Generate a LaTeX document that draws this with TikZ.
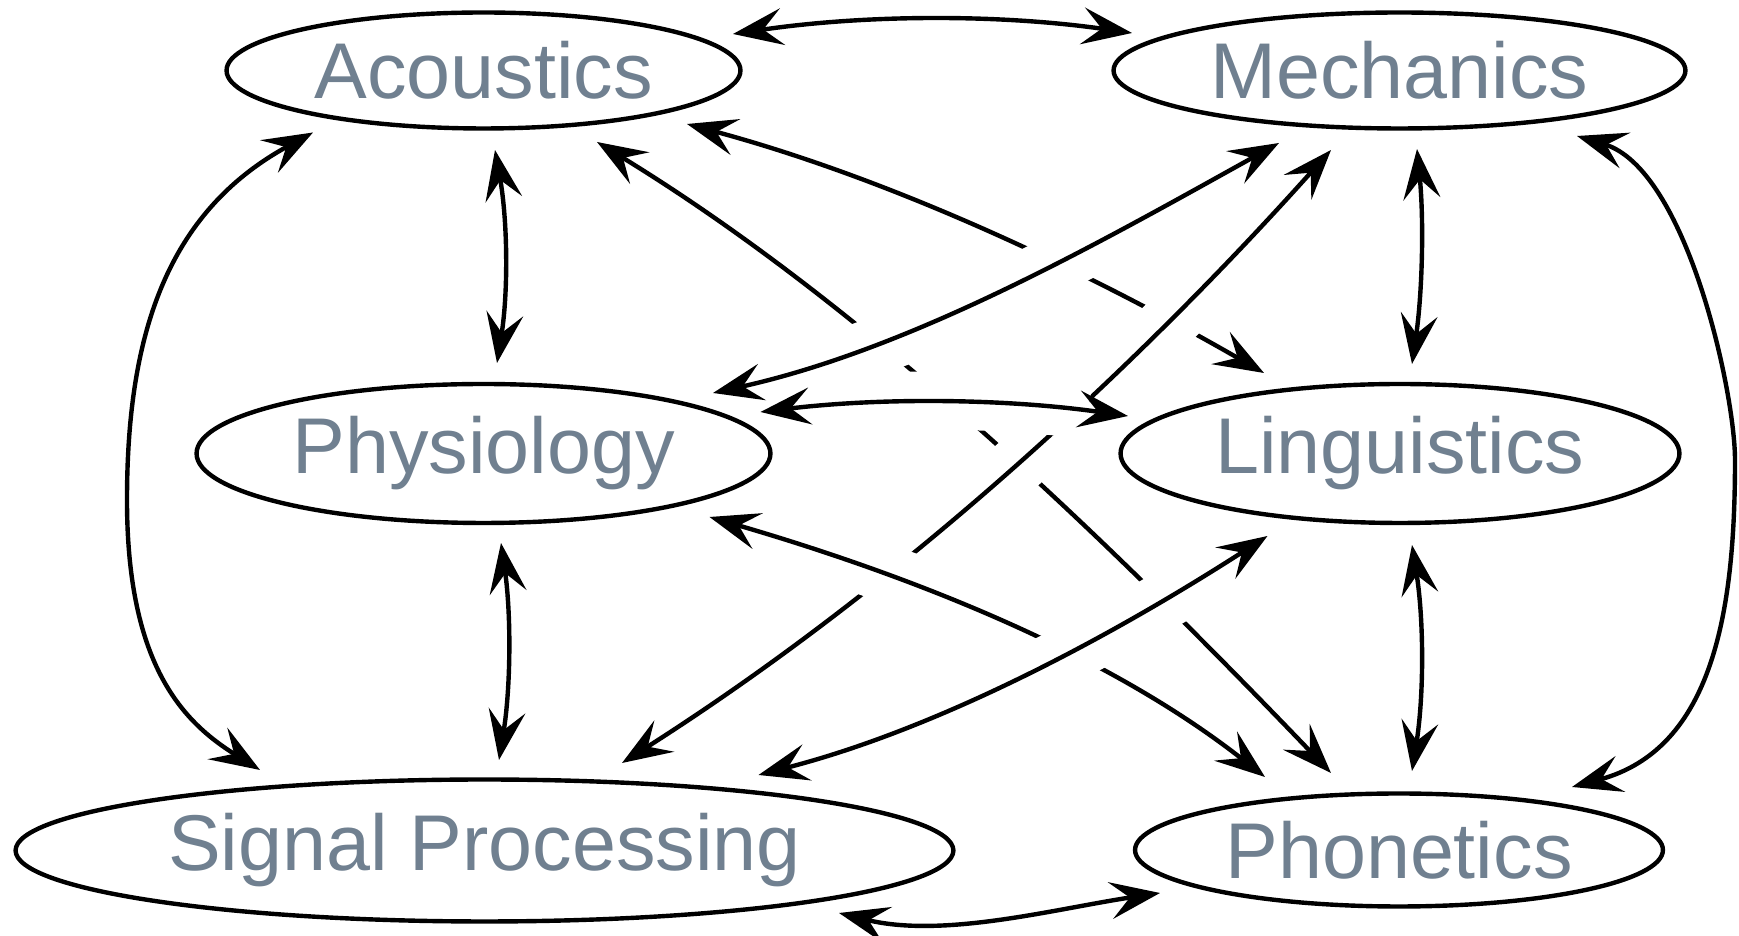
\documentclass[tikz,border=0pt]{standalone}
\usepackage{fontspec}
\setmainfont{Liberation Sans}
\usetikzlibrary{shapes.geometric,arrows.meta,calc}
\definecolor{labelgray}{RGB}{112,128,144}
\pgfdeclarelayer{paper}
\pgfdeclarelayer{wires}
\pgfsetlayers{paper,wires,main}
\begin{document}
\begin{tikzpicture}[x=0.02cm,y=0.02cm,
  field/.style={ellipse, draw, line width=0.088cm, inner sep=0pt,
    text=labelgray, font=\fontsize{45}{54}\selectfont},
  conn/.style={line width=0.088cm,
    {Stealth[length=1.0cm,width=0.74cm,inset=0.39cm]}-{Stealth[length=1.0cm,width=0.74cm,inset=0.39cm]}},
  haloed/.style={preaction={draw=white, line width=1.16cm, -,
    shorten <=0.8cm, shorten >=0.8cm}}]
\useasboundingbox (0,0) rectangle (1739,936);
\begin{pgfonlayer}{paper}
  \fill[white] (0,0) rectangle (1739,936);
\end{pgfonlayer}

% the six fields
\node[field, minimum width=10.28cm, minimum height=2.32cm] (aco)  at (483.5,865.5) {Acoustics};
\node[field, minimum width=11.44cm, minimum height=2.32cm] (mech) at (1399.5,865.5) {Mechanics};
\node[field, minimum width=11.48cm, minimum height=2.78cm] (phys) at (483.5,482.5) {Physiology};
\node[field, minimum width=11.18cm, minimum height=2.78cm] (ling) at (1400,482.5) {Linguistics};
\node[field, minimum width=18.76cm, minimum height=2.84cm] (sig)  at (484.5,85.5) {Signal Processing};
\node[field, minimum width=10.56cm, minimum height=2.26cm] (phon) at (1399,86) {Phonetics};

\begin{pgfonlayer}{wires}
  % links that cross nothing
  \draw[conn] ($(aco)+(249.5,36.5)$) .. controls (866,921.6) and (999,922) .. ($(mech)+(-267.5,37.5)$);
  \draw[conn] ($(aco)+(11.5,-79.5)$) .. controls (507.7,715) and (508.3,644) .. ($(phys)+(13.5,90.5)$);
  \draw[conn] ($(phys)+(17.5,-89.5)$) .. controls (511.3,321) and (510.7,248) .. ($(sig)+(14.5,90.5)$);
  \draw[conn] ($(mech)+(17.5,-78.5)$) .. controls (1424,715.3) and (1422.4,643.7) .. ($(ling)+(12,89.5)$);
  \draw[conn] ($(ling)+(12,-91.5)$) .. controls (1424,315.7) and (1424,240.3) .. ($(phon)+(13,79)$);
  \draw[conn] ($(aco)+(-170.5,-62)$) .. controls (166,723.3) and (127,600) .. (127,436)
              .. controls (127,269) and (184.4,213.2) .. ($(sig)+(-224.5,80.5)$);
  \draw[conn] ($(mech)+(177.5,-65.5)$) .. controls (1686.4,767) and (1735,544) .. (1735,476)
              .. controls (1735,327) and (1714,187.2) .. ($(phon)+(173,63)$);
  \draw[conn] ($(sig)+(354.5,-62.5)$) .. controls (943,-2.7) and (1054,27) .. ($(phon)+(-239,-43)$);

  % crossing links, lowest first; each one cuts a gap in those below it
  \draw[conn,haloed] ($(aco)+(203.5,-53.5)$) .. controls (889.6,757.4) and (1081.3,668) .. ($(ling)+(-136,80.5)$);
  \draw[conn,haloed] ($(aco)+(113.5,-71.5)$) .. controls (869,627.6) and (1110.2,393.4) .. ($(phon)+(-68,77)$);
  \draw[conn,haloed] ($(mech)+(-68.5,-79.5)$) .. controls (1121.2,551.8) and (886.5,341.3) .. ($(sig)+(137.5,87.5)$);
  \draw[conn,haloed] ($(phys)+(226,-63.5)$) .. controls (905.3,361.9) and (1103.8,285.5) .. ($(phon)+(-134,73)$);
  \draw[conn,haloed] ($(ling)+(-132.5,-82.5)$) .. controls (1110.4,299) and (939.9,207.75) .. ($(sig)+(274,75.5)$);
  \draw[conn,haloed] ($(mech)+(-120.5,-72.5)$) .. controls (1099,693) and (914,587.7) .. ($(phys)+(229.5,60.5)$);
  \draw[conn,haloed] ($(phys)+(277,41.5)$) .. controls (883,538.7) and (1006,537.3) .. ($(ling)+(-272,37.5)$);
\end{pgfonlayer}
\end{tikzpicture}
\end{document}
